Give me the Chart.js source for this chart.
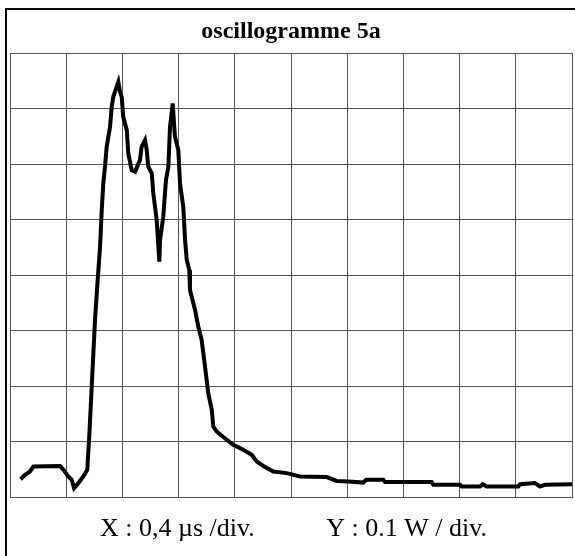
<!DOCTYPE html>
<html>
<head>
<meta charset="utf-8">
<script src="https://cdn.jsdelivr.net/npm/chart.js@4/dist/chart.umd.min.js"></script>
<style>
  body { margin: 0; background: #fff; }
</style>
</head>
<body>
<canvas id="scope" width="575" height="556"></canvas>
<script>
const timeUs = [0.075, 0.107, 0.142, 0.167, 0.356, 0.381, 0.415, 0.439, 0.456, 0.486,
  0.522, 0.550, 0.557, 0.564, 0.577, 0.591, 0.605, 0.624, 0.641, 0.653,
  0.664, 0.676, 0.688, 0.712, 0.724, 0.735, 0.759, 0.771, 0.783, 0.795,
  0.806, 0.831, 0.842, 0.866, 0.890, 0.925, 0.937, 0.961, 0.973, 0.984,
  1.009, 1.020, 1.044, 1.056, 1.063, 1.068, 1.091, 1.110, 1.127, 1.139,
  1.158, 1.174, 1.198, 1.210, 1.233, 1.246, 1.258, 1.276, 1.281, 1.317,
  1.340, 1.364, 1.388, 1.411, 1.436, 1.447, 1.471, 1.518, 1.589, 1.660,
  1.720, 1.756, 1.803, 1.874, 1.969, 2.064, 2.254, 2.325, 2.408, 2.515,
  2.534, 2.657, 2.669, 3.001, 3.013, 3.203, 3.215, 3.345, 3.364, 3.393,
  3.618, 3.630, 3.737, 3.772, 3.808, 4.000];
const powerW = [0.032, 0.040, 0.046, 0.055, 0.056, 0.049, 0.037, 0.031, 0.016, 0.025,
  0.037, 0.049, 0.079, 0.109, 0.175, 0.247, 0.319, 0.391, 0.451, 0.517,
  0.565, 0.595, 0.631, 0.667, 0.703, 0.721, 0.739, 0.748, 0.730, 0.721,
  0.685, 0.661, 0.619, 0.589, 0.586, 0.607, 0.631, 0.643, 0.625, 0.595,
  0.583, 0.547, 0.499, 0.451, 0.424, 0.463, 0.505, 0.571, 0.595, 0.667,
  0.709, 0.649, 0.625, 0.565, 0.523, 0.463, 0.427, 0.409, 0.373, 0.337,
  0.307, 0.283, 0.235, 0.187, 0.157, 0.127, 0.118, 0.108, 0.094, 0.085,
  0.076, 0.064, 0.056, 0.046, 0.043, 0.037, 0.036, 0.029, 0.028, 0.026,
  0.031, 0.031, 0.027, 0.027, 0.022, 0.022, 0.019, 0.019, 0.023, 0.019,
  0.019, 0.023, 0.025, 0.019, 0.022, 0.023];

const xDivUs = 0.4;   // 0,4 µs / div
const yDivW = 0.1;    // 0.1 W / div
const xDivs = 10;
const yDivs = 8;

const chartTitle = 'oscillogramme 5a';
const captionX = 'X : 0,4 µs /div.';
const captionY = 'Y : 0.1 W / div.';

const points = timeUs.map((t, i) => ({ x: t, y: powerW[i] }));

// cadre extérieur + légende du bas
const framePlugin = {
    id: 'frame',
    beforeDraw(chart) {
        const ctx = chart.ctx;
        ctx.save();
        ctx.fillStyle = '#fff';
        ctx.fillRect(0, 0, chart.width, chart.height);
        ctx.strokeStyle = '#000';
        ctx.lineWidth = 2;
        ctx.strokeRect(6, 9, chart.width + 20, chart.height + 20);
        ctx.restore();
    },
    afterDraw(chart) {
        const ctx = chart.ctx;
        const area = chart.chartArea;
        ctx.save();
        ctx.fillStyle = '#000';
        ctx.font = '26px "Liberation Serif", "Times New Roman", serif';
        ctx.textBaseline = 'alphabetic';
        ctx.textAlign = 'left';
        ctx.fillText(captionX, 100, area.bottom + 39);
        ctx.textAlign = 'right';
        ctx.fillText(captionY, 487, area.bottom + 39);
        ctx.restore();
    }
};

new Chart(document.getElementById('scope'), {
    type: 'line',
    data: {
        datasets: [{
            data: points,
            borderColor: '#000',
            borderWidth: 4,
            pointRadius: 0,
            tension: 0,
            fill: false
        }]
    },
    options: {
        responsive: false,
        animation: false,
        parsing: false,
        layout: { padding: { left: 10, right: 3, top: 0, bottom: 59 } },
        plugins: {
            legend: { display: false },
            tooltip: { enabled: false },
            title: {
                display: true,
                text: chartTitle,
                color: '#000',
                font: { family: '"Liberation Serif", "Times New Roman", serif', size: 24, weight: 'bold', lineHeight: 1.2 },
                padding: { top: 17, bottom: 7.2 }
            }
        },
        scales: {
            x: {
                type: 'linear',
                min: 0,
                max: xDivs * xDivUs,
                ticks: { display: false, stepSize: xDivUs },
                grid: { color: '#555', lineWidth: 1, drawTicks: false },
                border: { display: true, color: '#555', width: 1 }
            },
            y: {
                type: 'linear',
                min: 0,
                max: yDivs * yDivW,
                ticks: { display: false, stepSize: yDivW },
                grid: { color: '#555', lineWidth: 1, drawTicks: false },
                border: { display: true, color: '#555', width: 1 }
            }
        }
    },
    plugins: [framePlugin]
});
</script>
</body>
</html>
